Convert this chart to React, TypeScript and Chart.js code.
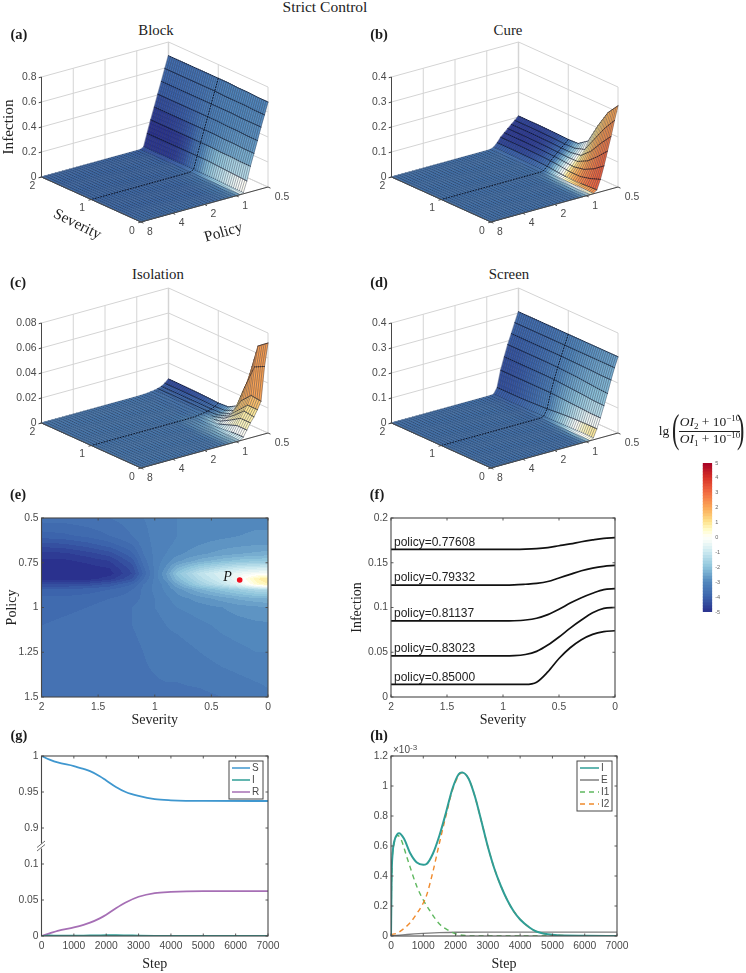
import React, { useEffect, useRef } from "react";
import { Chart, registerables } from "chart.js";

Chart.register(...registerables);

/* ---------- surface data (panels a-d) ---------- */
const severityColumns = [2, 1.8, 1.6, 1.4, 1.2, 1, 0.8, 0.6, 0.4, 0.2, 0];
const policyRows = [
  0.5, 0.54, 0.583, 0.63, 0.68, 0.735, 0.794, 0.857, 0.926, 1, 1.08, 1.17, 1.26, 1.36,
  1.47, 1.59, 1.72, 1.85, 2, 2.16, 2.33, 2.52, 2.72, 2.94, 3.17, 3.43, 3.7, 4, 4.32, 4.67,
  5.04, 5.44, 5.88, 6.35, 6.86, 7.41, 8,
];
const zeroRow = [0, 0, 0, 0, 0, 0, 0, 0, 0, 0, 0];

const blockHeight = [
  [0.69, 0.69, 0.69, 0.69, 0.69, 0.69, 0.69, 0.685, 0.685, 0.68, 0.68],
  [0.595, 0.595, 0.595, 0.595, 0.595, 0.595, 0.59, 0.59, 0.59, 0.585, 0.585],
  [0.5, 0.5, 0.5, 0.5, 0.5, 0.5, 0.5, 0.5, 0.495, 0.495, 0.495],
  [0.405, 0.405, 0.405, 0.405, 0.405, 0.405, 0.405, 0.4, 0.4, 0.395, 0.395],
  [0.31, 0.31, 0.31, 0.31, 0.31, 0.31, 0.31, 0.305, 0.305, 0.3, 0.3],
  [0.215, 0.215, 0.215, 0.215, 0.215, 0.215, 0.215, 0.21, 0.21, 0.205, 0.205],
  [0.115, 0.115, 0.115, 0.115, 0.115, 0.115, 0.115, 0.11, 0.105, 0.1, 0.095],
  [0.015, 0.015, 0.015, 0.015, 0.015, 0.015, 0.015, 0.015, 0.012, 0.01, 0.01],
  [0.001, 0.001, 0.001, 0.001, 0.001, 0.001, 0.001, 0.001, 0.001, 0.001, 0.001],
  zeroRow, zeroRow, zeroRow, zeroRow, zeroRow,
];
const cureHeight = [
  [0.104, 0.104, 0.104, 0.103, 0.102, 0.1, 0.102, 0.13, 0.21, 0.28, 0.325],
  [0.09, 0.09, 0.09, 0.089, 0.088, 0.086, 0.087, 0.1, 0.16, 0.22, 0.27],
  [0.078, 0.078, 0.078, 0.077, 0.076, 0.074, 0.073, 0.08, 0.115, 0.165, 0.21],
  [0.065, 0.065, 0.065, 0.064, 0.063, 0.061, 0.059, 0.06, 0.08, 0.115, 0.155],
  [0.052, 0.052, 0.052, 0.051, 0.05, 0.048, 0.045, 0.042, 0.05, 0.07, 0.1],
  [0.038, 0.038, 0.038, 0.037, 0.036, 0.034, 0.03, 0.025, 0.025, 0.035, 0.05],
  [0.02, 0.02, 0.02, 0.019, 0.018, 0.016, 0.012, 0.008, 0.007, 0.01, 0.012],
  [0.006, 0.006, 0.006, 0.005, 0.004, 0.003, 0.002, 0.001, 0.001, 0.002, 0.002],
  [0.001, 0.001, 0.001, 0.001, 0.001, 0, 0, 0, 0, 0, 0],
  zeroRow, zeroRow, zeroRow, zeroRow, zeroRow,
];
const isolationHeight = [
  [0.0072, 0.0072, 0.007, 0.0068, 0.0065, 0.006, 0.0065, 0.011, 0.035, 0.066, 0.072],
  [0.0045, 0.0045, 0.0045, 0.0044, 0.0043, 0.004, 0.0045, 0.008, 0.03, 0.05, 0.054],
  [0.0028, 0.0028, 0.0028, 0.0028, 0.0028, 0.0028, 0.0032, 0.006, 0.02, 0.028, 0.027],
  [0.0018, 0.0018, 0.0018, 0.0018, 0.0018, 0.0018, 0.0024, 0.005, 0.013, 0.021, 0.021],
  [0.0012, 0.0012, 0.0012, 0.0012, 0.0012, 0.0013, 0.0018, 0.004, 0.01, 0.017, 0.016],
  [0.0008, 0.0008, 0.0008, 0.0008, 0.0008, 0.0009, 0.0012, 0.0025, 0.007, 0.012, 0.012],
  [0.0004, 0.0004, 0.0004, 0.0004, 0.0004, 0.0005, 0.0007, 0.0012, 0.004, 0.007, 0.007],
  [0.0002, 0.0002, 0.0002, 0.0002, 0.0002, 0.0002, 0.0002, 0.0003, 0.001, 0.002, 0.0022],
  [0.0001, 0.0001, 0.0001, 0.0001, 0.0001, 0.0001, 0.0001, 0.0001, 0.0001, 0.0001, 0.0001],
  zeroRow, zeroRow, zeroRow, zeroRow, zeroRow,
];
const screenHeight = [
  [0.305, 0.305, 0.305, 0.305, 0.305, 0.305, 0.305, 0.305, 0.305, 0.305, 0.305],
  [0.265, 0.265, 0.265, 0.265, 0.265, 0.265, 0.265, 0.265, 0.265, 0.265, 0.265],
  [0.225, 0.225, 0.225, 0.225, 0.225, 0.225, 0.224, 0.223, 0.222, 0.22, 0.22],
  [0.185, 0.185, 0.185, 0.185, 0.185, 0.184, 0.182, 0.18, 0.176, 0.172, 0.17],
  [0.14, 0.14, 0.14, 0.14, 0.14, 0.139, 0.136, 0.133, 0.13, 0.126, 0.125],
  [0.09, 0.09, 0.09, 0.09, 0.09, 0.09, 0.088, 0.085, 0.083, 0.08, 0.08],
  [0.025, 0.025, 0.025, 0.026, 0.028, 0.03, 0.034, 0.037, 0.039, 0.04, 0.04],
  [0.002, 0.002, 0.002, 0.002, 0.003, 0.004, 0.005, 0.006, 0.007, 0.008, 0.008],
  [0.0005, 0.0005, 0.0005, 0.0005, 0.0005, 0.0005, 0.0005, 0.0005, 0.0005, 0.0005, 0.0005],
  zeroRow, zeroRow, zeroRow, zeroRow, zeroRow,
];

const cureTone = [
  [-4.6, -4.6, -4.6, -4.5, -4.3, -3.6, -2, -0.2, 0.8, 1.5, 1.9],
  [-4.7, -4.7, -4.7, -4.6, -4.4, -3.7, -2, 0.2, 1.4, 2, 2.2],
  [-4.8, -4.8, -4.8, -4.7, -4.4, -3.7, -1.9, 0.6, 1.8, 2.4, 2.6],
  [-4.8, -4.8, -4.8, -4.7, -4.4, -3.7, -1.7, 0.9, 2, 2.6, 2.9],
  [-4.8, -4.8, -4.8, -4.7, -4.4, -3.7, -1.5, 1.2, 2.2, 2.8, 3.1],
  [-4.7, -4.7, -4.7, -4.6, -4.3, -3.6, -1.3, 1.4, 2.4, 2.9, 3.2],
  [-4.4, -4.4, -4.4, -4.3, -4, -3.4, -1.2, 1.2, 2.2, 2.8, 3],
  [-3.7, -3.7, -3.7, -3.6, -3.5, -3.2, -1.8, -0.2, 0.6, 1.2, 1.6],
  [-3.4, -3.4, -3.4, -3.4, -3.4, -3.3, -2.6, -1.8, -1.2, -0.8, -0.5],
  [-3.3, -3.3, -3.3, -3.3, -3.3, -3.1, -2.8, -2.4, -2.1, -1.9, -1.8],
  [-3.3, -3.3, -3.3, -3.3, -3.3, -3.2, -3, -2.9, -2.8, -2.7, -2.6],
  [-3.3, -3.3, -3.3, -3.3, -3.3, -3.3, -3.2, -3.1, -3, -3, -2.9],
  [-3.3, -3.3, -3.3, -3.3, -3.3, -3.3, -3.3, -3.2, -3.2, -3.1, -3.1],
  [-3.3, -3.3, -3.3, -3.3, -3.3, -3.3, -3.3, -3.3, -3.3, -3.2, -3.2],
];
const isolationTone = [
  [-4.7, -4.7, -4.6, -4.5, -4.2, -3.6, -2.6, 0.2, 1.9, 2.1, 2.1],
  [-4.3, -4.3, -4.2, -4.1, -3.9, -3.5, -2.5, 0.2, 1.9, 2.1, 2.1],
  [-3.9, -3.9, -3.9, -3.8, -3.6, -3.4, -2.4, 0, 1.8, 2, 2],
  [-3.6, -3.6, -3.6, -3.6, -3.5, -3.3, -2.3, -0.3, 1, 1.2, 1],
  [-3.4, -3.4, -3.4, -3.4, -3.3, -3.1, -2.2, -0.3, 0.8, 0.9, 0.8],
  [-3.3, -3.3, -3.3, -3.3, -3.3, -3, -2.1, -0.5, 0.5, 0.7, 0.7],
  [-3.3, -3.3, -3.3, -3.3, -3.2, -2.9, -2, -1.1, -0.2, 0.4, 0.5],
  [-3.3, -3.3, -3.3, -3.3, -3.3, -3, -2.7, -2, -1.3, -0.7, -0.3],
  [-3.2, -3.2, -3.2, -3.2, -3.2, -2.9, -2.6, -2.2, -1.7, -1.3, -1.1],
  [-3.1, -3.1, -3.1, -3.1, -3.1, -2.8, -2.6, -2.3, -2, -1.8, -1.7],
  [-3.1, -3.1, -3.1, -3.1, -3.1, -2.9, -2.7, -2.5, -2.3, -2.2, -2.1],
  [-3.1, -3.1, -3.1, -3.1, -3.1, -3, -2.8, -2.7, -2.6, -2.5, -2.5],
  [-3.1, -3.1, -3.1, -3.1, -3.1, -3.1, -3, -2.9, -2.8, -2.8, -2.8],
  [-3.1, -3.1, -3.1, -3.1, -3.1, -3.1, -3.1, -3.1, -3, -3, -3],
];
const screenTone = [
  [-3.6, -3.6, -3.55, -3.5, -3.4, -3.2, -3, -2.9, -2.8, -2.7, -2.6],
  [-3.8, -3.8, -3.7, -3.6, -3.45, -3.2, -3, -2.8, -2.65, -2.5, -2.4],
  [-4, -3.95, -3.85, -3.7, -3.5, -3.2, -2.95, -2.7, -2.5, -2.35, -2.25],
  [-4.2, -4.15, -4, -3.8, -3.55, -3.2, -2.85, -2.55, -2.3, -2.15, -2.05],
  [-4.35, -4.3, -4.1, -3.9, -3.55, -3.2, -2.7, -2.35, -2.05, -1.85, -1.75],
  [-4.4, -4.35, -4.2, -3.9, -3.5, -3.15, -2.5, -2, -1.5, -0.9, -0.7],
  [-4.3, -4.25, -4.1, -3.85, -3.45, -3.1, -2.3, -1.5, -0.5, 0.2, 0.5],
  [-3.9, -3.9, -3.8, -3.6, -3.35, -3, -2.3, -1.3, 0.3, 1, 1.3],
  [-3.6, -3.6, -3.5, -3.5, -3.4, -3.3, -3.1, -2.7, -2, -1, -0.8],
  [-3.5, -3.5, -3.5, -3.5, -3.4, -3.3, -3.1, -2.9, -2.7, -2.5, -2.4],
  [-3.4, -3.4, -3.4, -3.4, -3.4, -3.3, -3.2, -3.1, -3, -2.9, -2.8],
  [-3.4, -3.4, -3.4, -3.4, -3.4, -3.4, -3.3, -3.3, -3.2, -3.2, -3.1],
  [-3.3, -3.3, -3.3, -3.3, -3.3, -3.3, -3.3, -3.3, -3.3, -3.3, -3.2],
  [-3.3, -3.3, -3.3, -3.3, -3.3, -3.3, -3.3, -3.3, -3.3, -3.3, -3.3],
];

/* ---------- map data (panel e) ---------- */
const mapSeverity = [2, 1.8, 1.6, 1.4, 1.2, 1.1, 1, 0.9, 0.8, 0.6, 0.4, 0.25, 0.1, 0];
const mapPolicy = [0.5, 0.6, 0.65, 0.7, 0.74, 0.78, 0.81, 0.84, 0.87, 0.9, 0.95, 1, 1.1, 1.25, 1.5];
const mapTone = [
  [-3.6, -3.6, -3.55, -3.5, -3.4, -3.3, -3.25, -3.2, -3.1, -3.05, -3, -3, -3, -3],
  [-4, -3.95, -3.85, -3.7, -3.5, -3.35, -3.25, -3.2, -3.1, -3, -2.95, -2.9, -2.85, -2.85],
  [-4.4, -4.35, -4.2, -4, -3.7, -3.4, -3.25, -3.15, -3.05, -2.9, -2.8, -2.75, -2.7, -2.7],
  [-4.8, -4.75, -4.6, -4.4, -3.95, -3.5, -3.25, -3.1, -2.95, -2.75, -2.6, -2.5, -2.45, -2.4],
  [-4.95, -4.95, -4.85, -4.7, -4.2, -3.6, -3.25, -3, -2.75, -2.4, -2.15, -2, -1.95, -1.9],
  [-5, -5, -5, -4.9, -4.4, -3.75, -3.25, -2.85, -2.3, -1.7, -1.3, -1.05, -0.95, -0.9],
  [-5, -5, -5, -5, -4.5, -3.85, -3.25, -2.7, -2, -1.2, -0.7, -0.4, -0.25, -0.2],
  [-5, -5, -5, -4.8, -4.3, -3.7, -3.25, -2.8, -2.2, -1.4, -0.8, -0.2, 0.7, 0.9],
  [-4.5, -4.5, -4.45, -4.25, -3.9, -3.5, -3.25, -3, -2.5, -1.7, -1.1, -0.5, 0.4, 0.7],
  [-4.05, -4.05, -4, -3.9, -3.7, -3.45, -3.25, -3.05, -2.8, -2.35, -2, -1.75, -1.5, -1.4],
  [-3.85, -3.85, -3.8, -3.7, -3.6, -3.45, -3.3, -3.15, -3, -2.8, -2.6, -2.45, -2.35, -2.3],
  [-3.8, -3.75, -3.7, -3.6, -3.5, -3.4, -3.3, -3.2, -3.1, -3, -2.9, -2.8, -2.75, -2.7],
  [-3.7, -3.65, -3.6, -3.55, -3.5, -3.45, -3.4, -3.3, -3.25, -3.15, -3.05, -3, -2.95, -2.95],
  [-3.6, -3.6, -3.55, -3.55, -3.55, -3.5, -3.45, -3.4, -3.4, -3.3, -3.2, -3.15, -3.1, -3.1],
  [-3.55, -3.55, -3.55, -3.55, -3.55, -3.55, -3.55, -3.55, -3.55, -3.55, -3.5, -3.45, -3.4, -3.35],
];
const pointP = { severity: 0.25, policy: 0.846 };

/* ---------- policy curves (panel f) ---------- */
const curveLabels = ["policy=0.77608", "policy=0.79332", "policy=0.81137", "policy=0.83023", "policy=0.85000"];
const curveSeverity = [2, 1.5, 1, 0.9, 0.8, 0.7, 0.6, 0.5, 0.4, 0.3, 0.2, 0.1, 0];
const curve77608 = [0.165, 0.165, 0.165, 0.165, 0.1652, 0.1658, 0.167, 0.169, 0.171, 0.1735, 0.1755, 0.1772, 0.178];
const curve79332 = [0.125, 0.125, 0.125, 0.1252, 0.126, 0.127, 0.129, 0.133, 0.137, 0.141, 0.144, 0.146, 0.147];
const curve81137 = [0.085, 0.085, 0.085, 0.0852, 0.086, 0.088, 0.092, 0.098, 0.105, 0.111, 0.116, 0.12, 0.121];
const curve83023 = [0.046, 0.046, 0.046, 0.0462, 0.0475, 0.051, 0.058, 0.067, 0.077, 0.086, 0.094, 0.099, 0.1];
const curve85000 = [0.014, 0.014, 0.014, 0.014, 0.014, 0.0165, 0.028, 0.043, 0.055, 0.064, 0.07, 0.073, 0.074];

/* ---------- time courses (panels g, h) ---------- */
const sirSteps = [0, 250, 500, 1000, 1300, 1500, 1800, 2000, 2300, 2600, 3000, 3500, 4000, 5000, 7000];
const sirS = [1, 0.995, 0.991, 0.986, 0.982, 0.979, 0.972, 0.966, 0.957, 0.95, 0.9445, 0.94, 0.9385, 0.9376, 0.9375];
const sirR = [0, 0.0035, 0.0072, 0.012, 0.0155, 0.0185, 0.0245, 0.0295, 0.0385, 0.0465, 0.0545, 0.0597, 0.0612, 0.0622, 0.0623];
const sirI = [0, 0.0007, 0.0005, 0.0005, 0.0006, 0.0007, 0.00095, 0.00105, 0.00105, 0.0009, 0.00058, 0.00028, 0.0001, 0.00001, 0];
const sirAxisLabels = ["0", "0.05", "0.1", "0.9", "0.95", "1"];

const stepsI = [0, 10, 20, 50, 100, 200, 250, 400, 600, 800, 1000, 1100, 1300, 1500, 1700, 1900, 2100, 2200, 2400, 2600, 2800, 3000, 3200, 3400, 3600, 3800, 4000, 4300, 4500, 5000, 6000, 7000];
const totalI = [0, 0.2, 0.4, 0.55, 0.63, 0.68, 0.685, 0.65, 0.55, 0.49, 0.475, 0.48, 0.55, 0.67, 0.82, 0.98, 1.08, 1.09, 1.05, 0.93, 0.765, 0.595, 0.45, 0.335, 0.24, 0.165, 0.11, 0.055, 0.03, 0.008, 0.001, 0];
const stepsE = [0, 500, 1000, 1500, 2000, 3000, 7000];
const totalE = [0, 0.01, 0.017, 0.022, 0.025, 0.026, 0.026];
const stepsI1 = [0, 20, 100, 200, 300, 500, 800, 1000, 1200, 1500, 1800, 2000, 2300, 2600, 7000];
const totalI1 = [0, 0.4, 0.62, 0.67, 0.65, 0.52, 0.33, 0.24, 0.17, 0.08, 0.035, 0.015, 0.003, 0, 0];
const stepsI2 = [0, 200, 400, 600, 800, 1000, 1100, 1300, 1500, 1700, 1900, 2100, 2200, 2400, 2600, 2800, 3000, 3200, 3400, 3600, 3800, 4000, 4300, 4500, 5000, 6000, 7000];
const totalI2 = [0.01, 0.02, 0.05, 0.09, 0.15, 0.22, 0.27, 0.43, 0.62, 0.8, 0.97, 1.07, 1.09, 1.05, 0.93, 0.765, 0.595, 0.45, 0.335, 0.24, 0.165, 0.11, 0.055, 0.03, 0.008, 0.001, 0];

const colorbarTicks = [-5, -4, -3, -2, -1, 0, 1, 2, 3, 4, 5];

/* ---------- shared styling ---------- */
const SANS = "'Liberation Sans', Arial, sans-serif";
const SERIF = "'Liberation Serif', 'Times New Roman', serif";
const INK = "#4a4a4a";
const FRAME = "#484848";
const toneStops: [number, number[]][] = [
  [-5, [42, 49, 142]], [-4, [60, 100, 172]], [-3, [82, 136, 189]], [-2, [143, 197, 220]],
  [-1, [203, 233, 240]], [-0.3, [244, 251, 247]], [0, [255, 255, 250]], [0.5, [255, 251, 200]],
  [1, [254, 229, 144]], [1.5, [253, 197, 111]], [2, [251, 167, 86]], [3, [242, 107, 66]],
  [4, [215, 48, 39]], [5, [165, 0, 38]],
];
const toneCache = new Map<number, string>();
function tone(v: number): string {
  const key = Math.round(Math.max(-5, Math.min(5, v)) * 50);
  const hit = toneCache.get(key);
  if (hit) return hit;
  const q = key / 50;
  let i = 0;
  while (i < toneStops.length - 2 && q > toneStops[i + 1][0]) i++;
  const [a, ca] = toneStops[i];
  const [b, cb] = toneStops[i + 1];
  const t = (q - a) / (b - a);
  const c = ca.map((x, n) => Math.round(x + (cb[n] - x) * t));
  const s = `rgb(${c[0]},${c[1]},${c[2]})`;
  toneCache.set(key, s);
  return s;
}

function bracket(list: number[], v: number, descending: boolean): [number, number] {
  for (let i = 0; i < list.length - 1; i++) {
    const a = list[i];
    const b = list[i + 1];
    if (descending ? v >= b : v <= b) return [i, Math.max(0, Math.min(1, (v - a) / (b - a)))];
  }
  return [list.length - 2, 1];
}
function sampleMap(severity: number, policy: number): number {
  const [r, rt] = bracket(mapPolicy, policy, false);
  const [c, ct] = bracket(mapSeverity, severity, true);
  const top = mapTone[r][c] * (1 - ct) + mapTone[r][c + 1] * ct;
  const bot = mapTone[r + 1][c] * (1 - ct) + mapTone[r + 1][c + 1] * ct;
  return top * (1 - rt) + bot * rt;
}

function putText(ctx: any, text: string, x: number, y: number, font: string, color: string, align: string, rotation = 0) {
  ctx.save();
  ctx.translate(x, y);
  if (rotation) ctx.rotate(rotation);
  ctx.font = font;
  ctx.fillStyle = color;
  ctx.textAlign = align;
  ctx.textBaseline = "middle";
  ctx.fillText(text, 0, 0);
  ctx.restore();
}

/* ---------- 3-D panels ---------- */
const VIEW = { frontX: 141, frontY: 182, sevX: -99.5, sevY: -45, polX: 127, polY: -35, zSpan: 100 };
function project(severity: number, policy: number, z: number, zMax: number): [number, number] {
  const s = severity / 2;
  const t = (3 - Math.log2(policy)) / 4;
  return [
    VIEW.frontX + s * VIEW.sevX + t * VIEW.polX,
    VIEW.frontY + s * VIEW.sevY + t * VIEW.polY - (z / zMax) * VIEW.zSpan,
  ];
}

type SurfaceSpec = {
  height: number[][];
  toneAt: (row: number, col: number, sev: number) => number;
  zMax: number;
  zTicks: number[];
  zLabels: string[];
  axisTitles: boolean;
};

const severityTicks = [2, 1, 0];
const policyTicks = [8, 4, 2, 1, 0.5];
const SUB = 5;

function paintSurface(chart: any, spec: SurfaceSpec) {
  const { ctx, scales } = chart;
  const cols = (severityColumns.length - 1) * SUB;
  const rows = policyRows.length - 1;
  const heightAt = (r: number, k: number) => {
    const tbl = r < spec.height.length ? spec.height[r] : zeroRow;
    const i = Math.min(Math.floor(k / SUB), severityColumns.length - 2);
    const f = k / SUB - i;
    return tbl[i] * (1 - f) + tbl[i + 1] * f;
  };
  const sevAt = (k: number) => 2 - (2 * k) / cols;
  const px = (r: number, k: number): [number, number] => {
    const [u, v] = project(sevAt(k), policyRows[r], heightAt(r, k), spec.zMax);
    return [scales.x.getPixelForValue(u), scales.y.getPixelForValue(v)];
  };
  const stroke = (a: number[], b: number[], color: string, w: number) => {
    ctx.beginPath();
    ctx.moveTo(a[0], a[1]);
    ctx.lineTo(b[0], b[1]);
    ctx.strokeStyle = color;
    ctx.lineWidth = w;
    ctx.stroke();
  };
  const floorCol = "rgba(18,28,55,0.5)";
  const floorRow = "rgba(18,28,55,0.55)";
  const wallCol = "rgba(14,22,48,0.62)";
  const wallRow = "rgba(10,16,36,0.85)";
  ctx.save();
  ctx.lineJoin = "round";
  ctx.lineCap = "round";
  for (let r = 0; r < rows; r++) {
    for (let k = 0; k < cols; k++) {
      const a = px(r, k);
      const b = px(r, k + 1);
      const c = px(r + 1, k + 1);
      const d = px(r + 1, k);
      const v = (spec.toneAt(r, k, sevAt(k)) + spec.toneAt(r, k + 1, sevAt(k + 1)) +
        spec.toneAt(r + 1, k, sevAt(k)) + spec.toneAt(r + 1, k + 1, sevAt(k + 1))) / 4;
      const col = tone(v);
      ctx.beginPath();
      ctx.moveTo(a[0], a[1]);
      ctx.lineTo(b[0], b[1]);
      ctx.lineTo(c[0], c[1]);
      ctx.lineTo(d[0], d[1]);
      ctx.closePath();
      ctx.fillStyle = col;
      ctx.strokeStyle = col;
      ctx.lineWidth = 0.4;
      ctx.fill();
      ctx.stroke();
      const raised = heightAt(r, k) > spec.zMax * 0.02;
      stroke(a, d, raised ? wallCol : floorCol, raised ? 0.6 : 0.55);
      stroke(a, b, raised ? wallRow : floorRow, raised ? 0.8 : 0.65);
      if (k === cols - 1) stroke(b, c, raised ? wallCol : floorCol, 0.6);
      if (r === rows - 1) stroke(d, c, floorRow, 0.65);
    }
  }
  // dotted guide along severity = 1
  const mid = 5 * SUB;
  ctx.lineCap = "butt";
  ctx.beginPath();
  for (let r = 0; r <= rows; r++) {
    const p = px(r, mid);
    if (r === 0) ctx.moveTo(p[0], p[1]);
    else ctx.lineTo(p[0], p[1]);
  }
  ctx.setLineDash([1.6, 1.2]);
  ctx.strokeStyle = "rgba(5,10,25,0.92)";
  ctx.lineWidth = 1;
  ctx.stroke();
  ctx.setLineDash([]);
  ctx.restore();
}

function surfacePlugin(spec: SurfaceSpec, gridLowestIndex: number) {
  return {
    id: "surface3d",
    // datasets are painted from the last index to the first: the surface goes over the grid and under the axes
    afterDatasetDraw(chart: any, args: any) {
      if (args.index === gridLowestIndex) paintSurface(chart, spec);
    },
    afterDatasetsDraw(chart: any) {
      const { ctx, scales } = chart;
      const tickFont = `10.4px ${SANS}`;
      const at = (sev: number, pol: number, z: number): [number, number] => {
        const [u, v] = project(sev, pol, z, spec.zMax);
        return [scales.x.getPixelForValue(u), scales.y.getPixelForValue(v)];
      };
      spec.zTicks.forEach((z, i) => {
        const p = at(2, 8, z);
        putText(ctx, spec.zLabels[i], p[0] - 5, p[1], tickFont, INK, "right");
      });
      severityTicks.forEach((s) => {
        const p = at(s, 8, 0);
        putText(ctx, String(s), p[0] - 9, p[1] + 9, tickFont, INK, "center");
      });
      policyTicks.forEach((q) => {
        const p = at(0, q, 0);
        putText(ctx, String(q), p[0] + (q === 0.5 ? 14 : 9), p[1] + 10, tickFont, INK, "center");
      });
      if (spec.axisTitles) {
        const titleFont = `15.3px ${SERIF}`;
        const z = at(2, 8, spec.zMax / 2);
        putText(ctx, "Infection", z[0] - 33, z[1], titleFont, "#222", "center", -Math.PI / 2);
        const s = at(1, 8, 0);
        putText(ctx, "Severity", s[0] - 14, s[1] + 25, titleFont, "#222", "center", 0.46);
        const q = at(0, 2, 0);
        putText(ctx, "Policy", q[0] + 19, q[1] + 28, titleFont, "#222", "center", -0.28);
      }
    },
  };
}

function surfaceConfig(spec: SurfaceSpec, width: number, height: number) {
  const { zMax, zTicks } = spec;
  const seg = (pts: [number, number][], color: string, w: number) => ({
    type: "scatter",
    data: pts.map(([x, y]) => ({ x, y })),
    showLine: true,
    pointRadius: 0,
    borderColor: color,
    borderWidth: w,
    clip: false,
  });
  const grid = "#d4d4d4";
  const axes: any[] = [];
  axes.push(seg([project(2, 8, 0, zMax), project(2, 8, zMax, zMax)], FRAME, 1));
  axes.push(seg([project(2, 8, 0, zMax), project(0, 8, 0, zMax), project(0, 0.5, 0, zMax)], FRAME, 1));
  zTicks.forEach((z) => axes.push(seg([project(2, 8, z, zMax), project(2, 8.5, z, zMax)], FRAME, 1)));
  policyTicks.forEach((q) => axes.push(seg([project(0, q, 0, zMax), project(-0.05, q, 0, zMax)], FRAME, 1)));
  severityTicks.forEach((s) => axes.push(seg([project(s, 8, 0, zMax), project(s, 8.5, 0, zMax)], FRAME, 1)));
  const lines: any[] = [];
  zTicks.forEach((z) => {
    lines.push(seg([project(2, 8, z, zMax), project(2, 0.5, z, zMax), project(0, 0.5, z, zMax)], grid, 1));
  });
  policyTicks.forEach((q) => {
    lines.push(seg([project(2, q, 0, zMax), project(2, q, zMax, zMax)], grid, q === 0.5 ? 1.5 : 1));
    lines.push(seg([project(2, q, 0, zMax), project(0, q, 0, zMax)], grid, 1));
  });
  severityTicks.forEach((s) => {
    lines.push(seg([project(s, 0.5, 0, zMax), project(s, 0.5, zMax, zMax)], grid, 1));
    lines.push(seg([project(s, 8, 0, zMax), project(s, 0.5, 0, zMax)], grid, 1));
  });
  return {
    type: "scatter",
    data: { datasets: [...axes, ...lines] },
    options: {
      responsive: false,
      animation: false,
      layout: { autoPadding: false, padding: 0 },
      plugins: { legend: { display: false }, tooltip: { enabled: false } },
      scales: {
        x: { type: "linear", display: false, min: 0, max: width },
        y: { type: "linear", display: false, min: 0, max: height, reverse: true },
      },
    },
    plugins: [surfacePlugin(spec, axes.length)],
  };
}

/* ---------- 2-D panels ---------- */
const numberTick = (v: any) => String(+Number(v).toFixed(6));

function framePlugin() {
  return {
    id: "frame",
    afterDatasetsDraw(chart: any) {
      const { ctx, chartArea: a, scales } = chart;
      ctx.save();
      ctx.strokeStyle = FRAME;
      ctx.lineWidth = 1.1;
      ctx.strokeRect(a.left, a.top, a.right - a.left, a.bottom - a.top);
      ctx.lineWidth = 0.9;
      ctx.beginPath();
      scales.x.ticks.forEach((t: any) => {
        const p = scales.x.getPixelForValue(t.value);
        ctx.moveTo(p, a.bottom);
        ctx.lineTo(p, a.bottom - 2.5);
        ctx.moveTo(p, a.top);
        ctx.lineTo(p, a.top + 2.5);
      });
      scales.y.ticks.forEach((t: any) => {
        const p = scales.y.getPixelForValue(t.value);
        ctx.moveTo(a.left, p);
        ctx.lineTo(a.left + 2.5, p);
        ctx.moveTo(a.right, p);
        ctx.lineTo(a.right - 2.5, p);
      });
      ctx.stroke();
      ctx.restore();
    },
  };
}

function axes2D(o: any) {
  const tickFont = { family: "Liberation Sans", size: 10.3 };
  const titleFont = { family: "Liberation Serif", size: 14 };
  return {
    x: {
      type: "linear",
      min: o.xMin,
      max: o.xMax,
      reverse: !!o.xReverse,
      afterFit: (s: any) => { s.height = o.xHeight; },
      grid: { display: false, drawTicks: false },
      border: { display: false },
      ticks: { stepSize: o.xStep, font: tickFont, color: INK, padding: 4, maxRotation: 0, autoSkip: false, callback: numberTick },
      title: o.xTitle ? { display: true, text: o.xTitle, font: titleFont, color: "#222", padding: { top: 0, bottom: 0 } } : { display: false },
    },
    y: {
      type: "linear",
      min: o.yMin,
      max: o.yMax,
      reverse: !!o.yReverse,
      afterFit: (s: any) => { s.width = o.yWidth; },
      grid: { display: false, drawTicks: false },
      border: { display: false },
      ticks: { stepSize: o.yStep, font: tickFont, color: INK, padding: 3, autoSkip: false, callback: o.yCallback || numberTick },
      title: o.yTitle ? { display: true, text: o.yTitle, font: titleFont, color: "#222", padding: { top: o.yTitlePad ?? 4, bottom: 0 } } : { display: false },
    },
  };
}

function base2D(datasets: any[], axes: any, padRight: number, plugins: any[]) {
  return {
    type: "scatter",
    data: { datasets },
    options: {
      responsive: false,
      animation: false,
      layout: { autoPadding: false, padding: { top: 13, right: padRight, bottom: 0, left: 0 } },
      plugins: { legend: { display: false }, tooltip: { enabled: false } },
      scales: axes,
    },
    plugins,
  };
}

const mapPlugin = {
  id: "contourMap",
  beforeDatasetsDraw(chart: any) {
    const { ctx, chartArea: a, scales } = chart;
    ctx.save();
    for (let px = Math.floor(a.left); px < a.right; px++) {
      const sev = scales.x.getValueForPixel(px + 0.5);
      for (let py = Math.floor(a.top); py < a.bottom; py++) {
        const pol = scales.y.getValueForPixel(py + 0.5);
        const v = sampleMap(sev, pol);
        ctx.fillStyle = tone(Math.round(v / 0.2) * 0.2);
        ctx.fillRect(px, py, 1, 1);
      }
    }
    ctx.restore();
  },
  afterDatasetsDraw(chart: any) {
    const { ctx, scales } = chart;
    putText(ctx, "P", scales.x.getPixelForValue(pointP.severity) - 8, scales.y.getPixelForValue(pointP.policy) - 3, `italic 14px ${SERIF}`, "#111", "right");
  },
};

const curveTextPlugin = {
  id: "curveText",
  afterDatasetsDraw(chart: any) {
    const { ctx, scales } = chart;
    chart.data.datasets.forEach((ds: any) => {
      const first = ds.data[0];
      putText(ctx, ds.label, scales.x.getPixelForValue(first.x) + 3, scales.y.getPixelForValue(first.y) - 7, `12px ${SANS}`, "#222", "left");
    });
  },
};

function legendPlugin(width: number, rowHeight: number) {
  return {
    id: "boxLegend",
    afterDraw(chart: any) {
      const { ctx, chartArea: a } = chart;
      const sets = chart.data.datasets;
      const right = a.right - 5;
      const top = a.top + 5;
      const left = right - width;
      const h = rowHeight * sets.length + 2;
      ctx.save();
      ctx.fillStyle = "#fff";
      ctx.fillRect(left, top, width, h);
      ctx.strokeStyle = FRAME;
      ctx.lineWidth = 1;
      ctx.strokeRect(left, top, width, h);
      sets.forEach((ds: any, i: number) => {
        const y = top + 1 + rowHeight * (i + 0.5);
        ctx.beginPath();
        ctx.setLineDash(ds.borderDash || []);
        ctx.moveTo(left + 3, y);
        ctx.lineTo(left + width - 13, y);
        ctx.strokeStyle = ds.borderColor;
        ctx.lineWidth = 1.5;
        ctx.stroke();
        ctx.setLineDash([]);
        putText(ctx, ds.label, left + width - 11, y, `10px ${SANS}`, INK, "left");
      });
      ctx.restore();
    },
  };
}

const breakPlugin = {
  id: "axisBreak",
  afterDraw(chart: any) {
    const { ctx, chartArea: a, scales } = chart;
    const y = scales.y.getPixelForValue(0.125);
    ctx.save();
    ctx.fillStyle = "#fff";
    ctx.fillRect(a.left - 1.5, y - 2.5, 3, 5);
    ctx.strokeStyle = FRAME;
    ctx.lineWidth = 0.8;
    ctx.beginPath();
    ctx.moveTo(a.left - 4.5, y + 1.5);
    ctx.lineTo(a.left + 3.5, y - 5);
    ctx.moveTo(a.left - 4.5, y + 5);
    ctx.lineTo(a.left + 3.5, y - 1.5);
    ctx.stroke();
    ctx.restore();
  },
};

const exponentPlugin = {
  id: "exponent",
  afterDraw(chart: any) {
    const { ctx, chartArea: a } = chart;
    putText(ctx, "×10", a.left + 2, a.top - 5.5, `10px ${SANS}`, INK, "left");
    putText(ctx, "-3", a.left + 19, a.top - 8, `8px ${SANS}`, INK, "left");
  },
};

const line = (label: string, xs: number[], ys: number[], color: string, extra: any = {}) => ({
  label,
  data: xs.map((x, i) => ({ x, y: ys[i] })),
  showLine: true,
  pointRadius: 0,
  borderColor: color,
  borderWidth: 1.8,
  cubicInterpolationMode: "monotone",
  ...extra,
});

function mapConfig() {
  const axes = axes2D({ xMin: 0, xMax: 2, xReverse: true, xStep: 0.5, xHeight: 32, xTitle: "Severity", yMin: 0.5, yMax: 1.5, yReverse: true, yStep: 0.25, yWidth: 41.5, yTitle: "Policy", yTitlePad: 4 });
  const marker = {
    label: "P",
    data: [{ x: pointP.severity, y: pointP.policy }],
    pointRadius: 2.8,
    pointBackgroundColor: "#f01020",
    pointBorderWidth: 0,
  };
  return base2D([marker], axes, 32, [mapPlugin, framePlugin()]);
}

function curvesConfig() {
  const axes = axes2D({ xMin: 0, xMax: 2, xReverse: true, xStep: 0.5, xHeight: 32, xTitle: "Severity", yMin: 0, yMax: 0.2, yStep: 0.05, yWidth: 46, yTitle: "Infection", yTitlePad: 4 });
  const values = [curve77608, curve79332, curve81137, curve83023, curve85000];
  const sets = values.map((v, i) => line(curveLabels[i], curveSeverity, v, "#111", { borderWidth: 1.7 }));
  return base2D(sets, axes, 30, [framePlugin(), curveTextPlugin]);
}

function sirConfig() {
  const axes = axes2D({
    xMin: 0, xMax: 7000, xStep: 1000, xHeight: 37, xTitle: "Step", yMin: 0, yMax: 0.25, yStep: 0.05, yWidth: 41.5,
    yCallback: (_v: any, i: number) => sirAxisLabels[i],
  });
  const upper = sirS.map((v) => v - 0.75);
  const sets = [
    line("S", sirSteps, upper, "#3f97cf"),
    line("I", sirSteps, sirI, "#2f9e96"),
    line("R", sirSteps, sirR, "#a66fb5"),
  ];
  return base2D(sets, axes, 32, [framePlugin(), legendPlugin(34, 12), breakPlugin]);
}

function infectedConfig() {
  const axes = axes2D({ xMin: 0, xMax: 7000, xStep: 1000, xHeight: 37, xTitle: "Step", yMin: 0, yMax: 1.2, yStep: 0.2, yWidth: 41 });
  const sets = [
    line("I", stepsI, totalI, "#2f9e96", { order: 1, borderWidth: 2 }),
    line("E", stepsE, totalE, "#7f7f7f", { order: 4, borderWidth: 1.3 }),
    line("I1", stepsI1, totalI1, "#5fb85f", { order: 3, borderDash: [5, 4], borderWidth: 1.4 }),
    line("I2", stepsI2, totalI2, "#f08a2c", { order: 2, borderDash: [5, 4], borderWidth: 1.4 }),
  ];
  return base2D(sets, axes, 33, [framePlugin(), legendPlugin(35, 12), exponentPlugin]);
}

function colorbarConfig() {
  const sets: any[] = [];
  for (let i = 0; i < 50; i++) {
    const lo = -5 + i * 0.2;
    sets.push({ data: [[lo, Math.min(5, lo + 0.21)]], backgroundColor: tone(lo + 0.1), borderWidth: 0, barPercentage: 1, categoryPercentage: 1 });
  }
  return {
    type: "bar",
    data: { labels: ["lg"], datasets: sets },
    options: {
      responsive: false,
      animation: false,
      layout: { autoPadding: false, padding: { top: 8, right: 0, bottom: 13, left: 12.7 } },
      plugins: { legend: { display: false }, tooltip: { enabled: false } },
      scales: {
        x: { display: false, stacked: true },
        y: {
          position: "right",
          min: colorbarTicks[0],
          max: colorbarTicks[colorbarTicks.length - 1],
          afterFit: (s: any) => { s.width = 27.8; },
          grid: { display: false, drawTicks: false },
          border: { display: false },
          afterBuildTicks: (s: any) => { s.ticks = colorbarTicks.map((value) => ({ value })); },
          ticks: { font: { family: "Liberation Sans", size: 5.5 }, color: "#666", padding: 3, autoSkip: false },
        },
      },
    },
  };
}

/* ---------- react ---------- */
function Panel({ left, top, width, height, build }: any) {
  const ref = useRef<HTMLCanvasElement>(null);
  useEffect(() => {
    const chart = new Chart(ref.current as any, build(width, height));
    return () => chart.destroy();
  }, []);
  return <canvas ref={ref} width={width} height={height} style={{ position: "absolute", left, top, width, height }} />;
}

const Txt = ({ x, y, size, bold, children }: any) => (
  <div style={{ position: "absolute", left: x, top: y, transform: "translate(-50%,-50%)", fontFamily: SERIF, fontSize: size, fontWeight: bold ? 700 : 400, color: "#1c1c1c", whiteSpace: "nowrap", lineHeight: 1 }}>
    {children}
  </div>
);

const Fraction = ({ n }: any) => (
  <span>
    <i>OI</i>
    <sub style={{ fontSize: 9, verticalAlign: -3, lineHeight: 0 }}>{n}</sub>
    {" + 10"}
    <sup style={{ fontSize: 9, verticalAlign: 5, lineHeight: 0 }}>−10</sup>
  </span>
);

const heightTone = (table: number[][], floor: number) => (row: number, col: number) => {
  const tbl = row < table.length ? table[row] : null;
  if (!tbl) return floor;
  const i = Math.min(Math.floor(col / SUB), severityColumns.length - 2);
  const f = col / SUB - i;
  return tbl[i] * (1 - f) + tbl[i + 1] * f;
};

const specBlock: SurfaceSpec = {
  height: blockHeight,
  toneAt: (row, _c, sev) => sampleMap(sev, Math.min(1.5, policyRows[row])),
  zMax: 0.8,
  zTicks: [0, 0.2, 0.4, 0.6, 0.8],
  zLabels: ["0", "0.2", "0.4", "0.6", "0.8"],
  axisTitles: true,
};
const specCure: SurfaceSpec = {
  height: cureHeight, toneAt: heightTone(cureTone, -3.3), zMax: 0.4,
  zTicks: [0, 0.1, 0.2, 0.3, 0.4], zLabels: ["0", "0.1", "0.2", "0.3", "0.4"], axisTitles: false,
};
const specIsolation: SurfaceSpec = {
  height: isolationHeight, toneAt: heightTone(isolationTone, -3.1), zMax: 0.08,
  zTicks: [0, 0.02, 0.04, 0.06, 0.08], zLabels: ["0", "0.02", "0.04", "0.06", "0.08"], axisTitles: false,
};
const specScreen: SurfaceSpec = {
  height: screenHeight, toneAt: heightTone(screenTone, -3.3), zMax: 0.4,
  zTicks: [0, 0.1, 0.2, 0.3, 0.4], zLabels: ["0", "0.1", "0.2", "0.3", "0.4"], axisTitles: false,
};

export default function App() {
  return (
    <div style={{ position: "absolute", left: 0, top: 0, width: 746, height: 973, background: "#fff", overflow: "hidden" }}>
      <Panel left={0} top={40} width={340} height={215} build={(w: number, h: number) => surfaceConfig(specBlock, w, h)} />
      <Panel left={350} top={40} width={340} height={215} build={(w: number, h: number) => surfaceConfig(specCure, w, h)} />
      <Panel left={0} top={286} width={340} height={215} build={(w: number, h: number) => surfaceConfig(specIsolation, w, h)} />
      <Panel left={350} top={286} width={340} height={215} build={(w: number, h: number) => surfaceConfig(specScreen, w, h)} />
      <Panel left={0} top={505} width={300} height={224} build={mapConfig} />
      <Panel left={345} top={505} width={300} height={224} build={curvesConfig} />
      <Panel left={0} top={743} width={300} height={230} build={sirConfig} />
      <Panel left={350} top={743} width={300} height={230} build={infectedConfig} />
      <Panel left={690} top={455} width={50} height={170} build={colorbarConfig} />

      <Txt x={325} y={7} size={15.5}>Strict Control</Txt>
      <Txt x={156} y={30} size={14.8}>Block</Txt>
      <Txt x={508} y={30} size={14.8}>Cure</Txt>
      <Txt x={158} y={274} size={14.8}>Isolation</Txt>
      <Txt x={509} y={274} size={14.8}>Screen</Txt>
      <Txt x={19} y={34} size={14.5} bold>(a)</Txt>
      <Txt x={379} y={34} size={14.5} bold>(b)</Txt>
      <Txt x={18} y={282} size={14.5} bold>(c)</Txt>
      <Txt x={379} y={282} size={14.5} bold>(d)</Txt>
      <Txt x={18} y={494} size={14.5} bold>(e)</Txt>
      <Txt x={377} y={494} size={14.5} bold>(f)</Txt>
      <Txt x={19} y={735} size={14.5} bold>(g)</Txt>
      <Txt x={379} y={735} size={14.5} bold>(h)</Txt>

      <Txt x={664} y={431} size={13.5}>lg</Txt>
      <div style={{ position: "absolute", left: 669, top: 409, fontFamily: SERIF, fontSize: 40, fontWeight: 400, lineHeight: 1, color: "#222", transform: "scaleX(0.55)" }}>(</div>
      <div style={{ position: "absolute", left: 734, top: 409, fontFamily: SERIF, fontSize: 40, fontWeight: 400, lineHeight: 1, color: "#222", transform: "scaleX(0.55)" }}>)</div>
      <Txt x={710} y={422} size={13.5}><Fraction n="2" /></Txt>
      <div style={{ position: "absolute", left: 679, top: 430.5, width: 61, height: 1, background: "#222" }} />
      <Txt x={710} y={439} size={13.5}><Fraction n="1" /></Txt>
    </div>
  );
}
